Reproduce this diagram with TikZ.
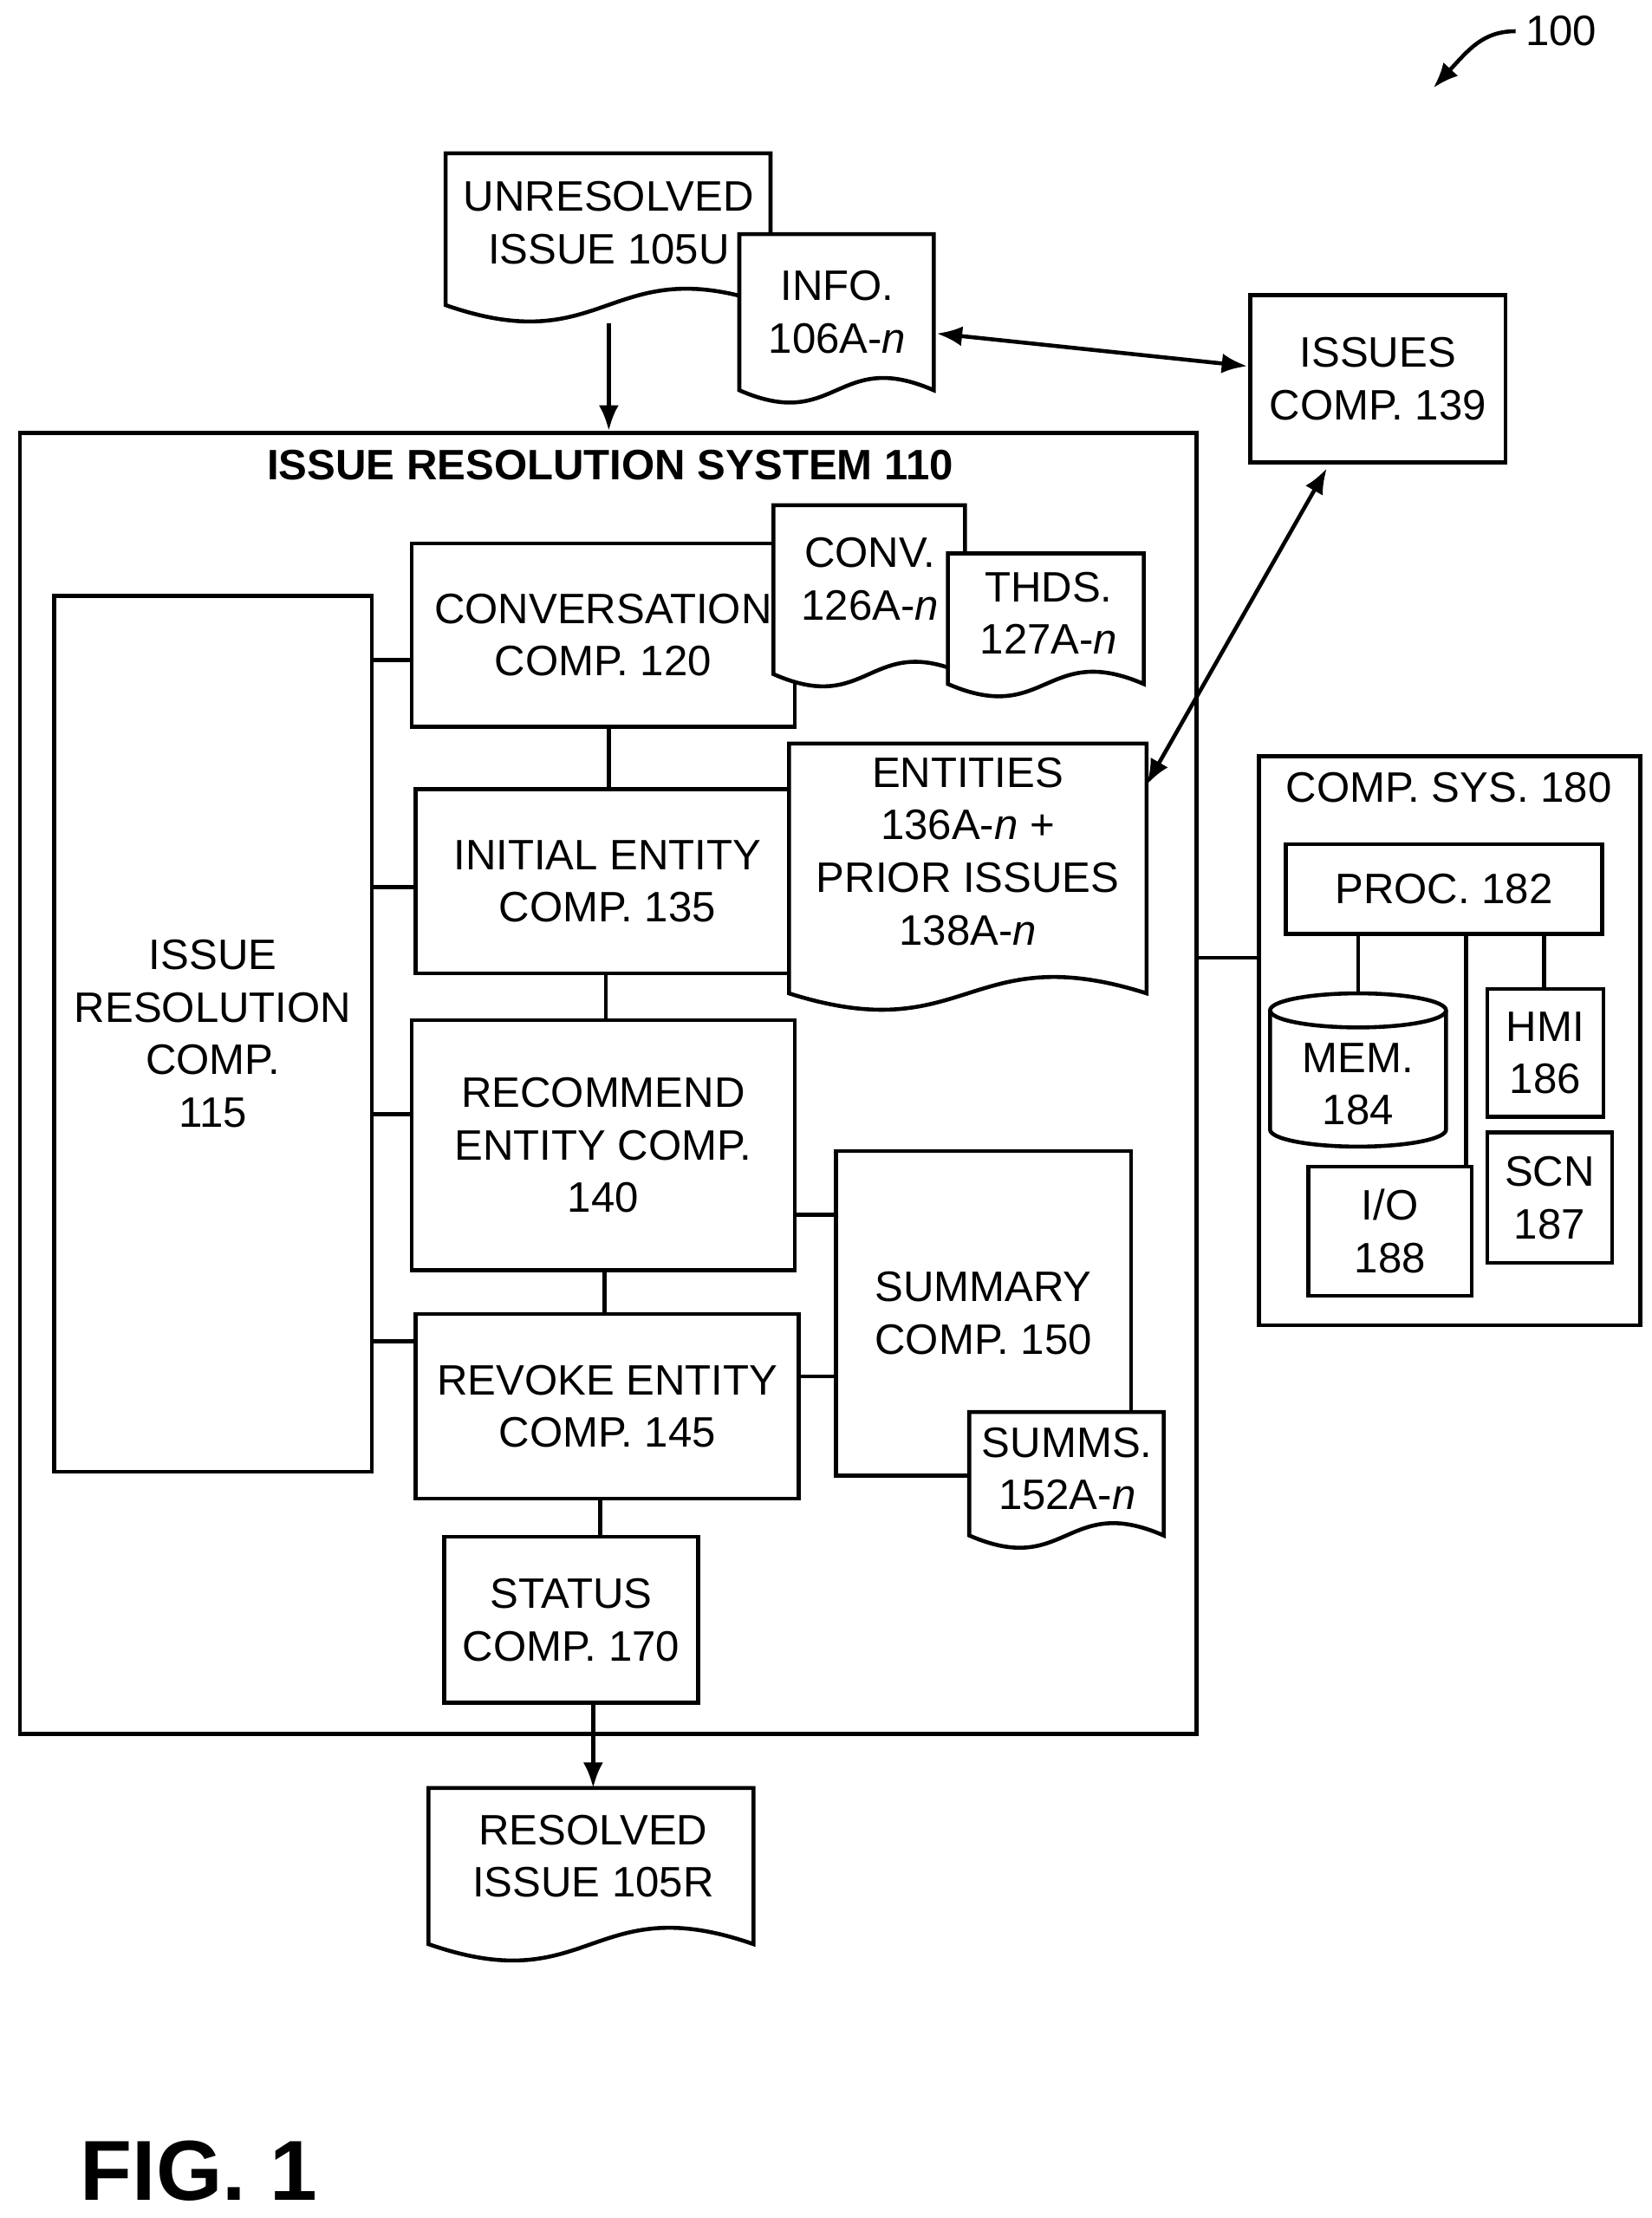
\documentclass[tikz,border=0pt]{standalone}
\usepackage{fontspec}
\setmainfont{Liberation Sans}
\usetikzlibrary{arrows.meta}
\begin{document}
\begin{tikzpicture}[x=0.5pt,y=-0.5pt,
  every node/.style={font=\fontsize{15}{18.5}\selectfont,align=center},
  box/.style={draw,line width=1.4pt,inner sep=0pt},
  ln/.style={line width=1.4pt},
  arr/.style={line width=1.4pt,-{Latex[length=9pt,width=7pt]}},
  darr/.style={line width=1.4pt,{Latex[length=9pt,width=7pt]}-{Latex[length=9pt,width=7pt]}}]
\useasboundingbox (0,0) rectangle (1164,1563);
\newcommand\bx[6]{\pgfmathsetmacro\ww{(#4-#2)*0.5}\pgfmathsetmacro\hh{(#5-#3)*0.5}%
  \node[box,minimum width=\ww pt,minimum height=\hh pt] (#1) at ({(#2+#4)/2},{(#3+#5)/2}) {#6};}
\newcommand\dc[8]{\draw[ln,fill=white] (#2,#3) -- (#4,#3) -- (#4,#5) .. controls ({(#2+#4)/2},{#5-#6}) and ({(#2+#4)/2},{#5+#6}) .. (#2,#5) -- cycle;
  \node (#1) at #7 {#8};}
% 100
\node[anchor=west] (n100) at (1068,22) {100};
\coordinate (c100) at (1010,62);
\draw[arr] (n100.west) .. controls (1045,22) and (1035,35) .. (c100);
% top docs
\dc{unres}{314}{108}{543}{215}{40}{(429,157)}{UNRESOLVED\\ISSUE 105U}
\dc{info}{521}{165}{658}{275}{30}{(590,220)}{INFO.\\106A-\textit{n}}
\bx{issues}{881}{208}{1061}{326}{ISSUES\\COMP. 139}
% system
\bx{sys}{14}{305}{843}{1222}{}
\node[font=\fontsize{15}{18.5}\selectfont\bfseries] (systitle) at (430,328) {ISSUE RESOLUTION SYSTEM 110};
\draw[arr] (429,228) -- (sys.north -| 429,0);
\bx{irc}{38}{420}{262}{1037}{ISSUE\\RESOLUTION\\COMP.\\115}
\bx{conv}{290}{383}{560}{512}{CONVERSATION\\COMP. 120}
\dc{convd}{545}{356}{680}{475}{30}{(613,408)}{CONV.\\126A-\textit{n}}
\dc{thds}{668}{390}{806}{482}{30}{(739,432)}{THDS.\\127A-\textit{n}}
\bx{init}{293}{556}{563}{686}{INITIAL ENTITY\\COMP. 135}
\dc{ent}{556}{524}{808}{700}{40}{(682,600)}{ENTITIES\\136A-\textit{n} +\\PRIOR ISSUES\\138A-\textit{n}}
\bx{rec}{290}{719}{560}{895}{RECOMMEND\\ENTITY COMP.\\140}
\bx{sum}{589}{811}{797}{1040}{SUMMARY\\COMP. 150}
\dc{summs}{683}{995}{820}{1082}{30}{(752,1035)}{SUMMS.\\152A-\textit{n}}
\bx{rev}{293}{926}{563}{1056}{REVOKE ENTITY\\COMP. 145}
\bx{stat}{313}{1083}{492}{1200}{STATUS\\COMP. 170}
\dc{resd}{302}{1260}{531}{1370}{40}{(418,1308)}{RESOLVED\\ISSUE 105R}
\draw[arr] (stat.south -| 418,0) -- (418,1260);
% connectors
\foreach \n/\y in {conv/465,init/625,rec/785,rev/945}{\draw[ln] (irc.east |- 0,\y) -- (\n.west |- 0,\y);}
\draw[ln] (conv.south -| 429,0) -- (init.north -| 429,0);
\draw[ln] (init.south -| 427,0) -- (rec.north -| 427,0);
\draw[ln] (rec.south -| 426,0) -- (rev.north -| 426,0);
\draw[ln] (rev.south -| 423,0) -- (stat.north -| 423,0);
\draw[ln] (rec.east |- 0,856) -- (sum.west |- 0,856);
\draw[ln] (rev.east |- 0,970) -- (sum.west |- 0,970);
\coordinate (infoR) at (660,235); \coordinate (issL) at (879,258);
\draw[darr] (infoR) -- (issL);
\coordinate (issB) at (935,330); \coordinate (entR) at (808,553);
\draw[darr] (issB) -- (entR);
% comp sys
\bx{cs}{887}{533}{1156}{934}{}
\node (cstitle) at (1021,555) {COMP. SYS. 180};
\draw[ln] (sys.east |- 0,675) -- (cs.west |- 0,675);
\bx{proc}{906}{595}{1129}{658}{PROC. 182}
\bx{hmi}{1048}{697}{1130}{787}{HMI\\186}
\bx{scn}{1048}{798}{1136}{890}{SCN\\187}
\bx{io}{922}{822}{1037}{913}{I/O\\188}
\draw[ln,fill=white] (895,712) -- (895,796) arc[start angle=180,end angle=0,x radius=62,y radius=12] -- (1019,712);
\draw[ln,fill=white] (957,712) ellipse[x radius=62,y radius=12];
\node (mem) at (957,764) {MEM.\\184};
\draw[ln] (proc.south -| 957,0) -- (957,700);
\draw[ln] (proc.south -| 1033,0) -- (io.north -| 1033,0);
\draw[ln] (proc.south -| 1088,0) -- (hmi.north -| 1088,0);
\node[font=\fontsize{30}{34}\selectfont\bfseries] (fig) at (140,1530) {FIG. 1};
\end{tikzpicture}
\end{document}
